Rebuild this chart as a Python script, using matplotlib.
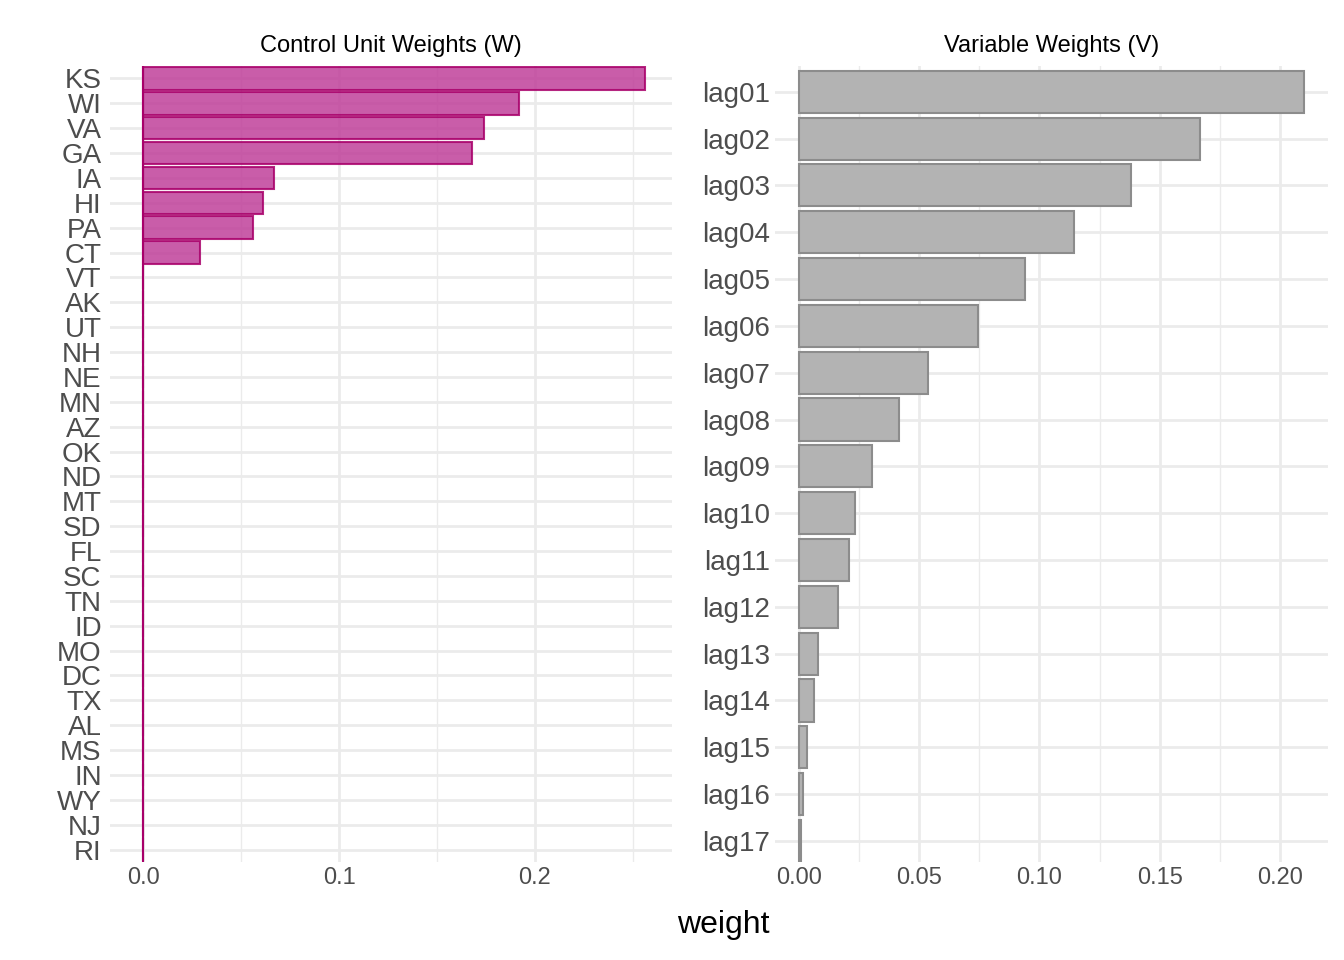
import matplotlib.pyplot as plt
import numpy as np

plt.rcParams['font.family'] = ['Liberation Sans', 'DejaVu Sans']

# control unit weights (W)
states = ['KS', 'WI', 'VA', 'GA', 'IA', 'HI', 'PA', 'CT', 'VT', 'AK', 'UT', 'NH', 'NE', 'MN',
          'AZ', 'OK', 'ND', 'MT', 'SD', 'FL', 'SC', 'TN', 'ID', 'MO', 'DC', 'TX', 'AL', 'MS',
          'IN', 'WY', 'NJ', 'RI']
w_vals = [0.256, 0.192, 0.174, 0.168, 0.0665, 0.061, 0.056, 0.029] + [0.0] * 24

# variable weights (V)
lags = ['lag%02d' % i for i in range(1, 18)]
v_vals = [0.210, 0.1667, 0.138, 0.1143, 0.094, 0.0744, 0.0536, 0.0416, 0.0304, 0.0233,
          0.0208, 0.0162, 0.0079, 0.0062, 0.0033, 0.0017, 0.0008]

grid_c = '#EBEBEB'
txt_c = '#4D4D4D'

fig = plt.figure(figsize=(13.44, 9.6), dpi=100)
ax1 = fig.add_axes([110 / 1344, 1 - 862 / 960, (672 - 110) / 1344, (862 - 66) / 960])
ax2 = fig.add_axes([775 / 1344, 1 - 862 / 960, (1328 - 775) / 1344, (862 - 66) / 960])


def style(ax, minor):
    for s in ax.spines.values():
        s.set_visible(False)
    ax.set_xticks(minor, minor=True)
    ax.grid(True, which='major', color=grid_c, lw=2)
    ax.grid(True, which='minor', axis='x', color=grid_c, lw=1)
    ax.set_axisbelow(True)
    ax.tick_params(which='both', length=0, colors=txt_c, labelsize=17)


y1 = np.arange(len(states))
ax1.barh(y1, w_vals, height=0.9, color='#C0409A', alpha=0.85, edgecolor='#A8006A', lw=1.5)
ax1.axvline(0, color='#A8006A', lw=1.5)
ax1.set_yticks(y1)
ax1.set_yticklabels(states, fontsize=20)
ax1.tick_params(axis='y', pad=6)
ax1.set_ylim(len(states) - 0.5, -0.5)
ax1.set_xlim(-0.017, 0.27)
ax1.set_xticks([0, 0.1, 0.2])
ax1.set_xticklabels(['0.0', '0.1', '0.2'])
style(ax1, [0.05, 0.15, 0.25])
ax1.tick_params(axis='y', labelsize=20)
ax1.set_title('Control Unit Weights (W)', fontsize=17, pad=10)

y2 = np.arange(len(lags))
ax2.barh(y2, v_vals, height=0.9, color='#B3B3B3', edgecolor='#8C8C8C', lw=1.5)
ax2.set_yticks(y2)
ax2.set_yticklabels(lags, fontsize=20)
ax2.set_ylim(len(lags) - 0.55, -0.55)
ax2.set_xlim(-0.01, 0.22)
ax2.set_xticks([0, 0.05, 0.10, 0.15, 0.20])
ax2.set_xticklabels(['0.00', '0.05', '0.10', '0.15', '0.20'])
style(ax2, [0.025, 0.075, 0.125, 0.175])
ax2.tick_params(axis='y', labelsize=20)
ax2.set_title('Variable Weights (V)', fontsize=17, pad=10)

fig.text(0.538, 1 - 925 / 960, 'weight', fontsize=23, ha='center', va='center')
fig.savefig('out.png', dpi=100)
